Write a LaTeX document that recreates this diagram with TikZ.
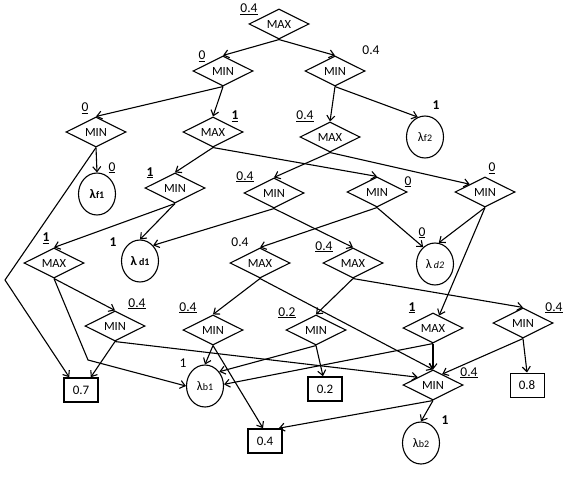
\documentclass[tikz,border=0pt]{standalone}
\usepackage{fontspec}
\setmainfont{Carlito}
\usetikzlibrary{shapes.geometric,arrows.meta,calc}
\begin{document}
\begin{tikzpicture}[x=1pt,y=-1pt,
  dia/.style={draw,diamond,aspect=2,minimum width=60pt,minimum height=30pt,inner sep=0pt,line width=1.1pt,font=\fontsize{12.5}{13}\selectfont},
  leaf/.style={draw,ellipse,minimum width=37pt,minimum height=42pt,inner sep=0pt,line width=1.1pt},
  val/.style={draw,rectangle,minimum width=34pt,minimum height=24pt,inner sep=0pt,line width=1.6pt,font=\fontsize{13}{13}\selectfont},
  lab/.style={anchor=base,inner sep=0pt,font=\fontsize{13.5}{14}\selectfont},
  edge/.style={line width=1.1pt,-{Straight Barb[length=5pt,width=8pt]}},
  lam/.style={font=\fontsize{13}{13}\selectfont},
  sub/.style={}
]
\useasboundingbox (0,0) rectangle (578,500);
\newcommand{\lsub}[1]{{\fontsize{10}{10}\selectfont #1}}
% diamonds
\node[dia] (r) at (279,24) {MAX};
\node[dia] (n2) at (223,71) {MIN};
\node[dia] (n3) at (335,71) {MIN};
\node[dia] (n4) at (96,132) {MIN};
\node[dia] (n5) at (213,132) {MAX};
\node[dia] (n6) at (330,137) {MAX};
\node[dia] (n9) at (175,188) {MIN};
\node[dia] (n10) at (274,193) {MIN};
\node[dia] (n11) at (377,192) {MIN};
\node[dia] (n12) at (485,192) {MIN};
\node[dia] (n13) at (54,263) {MAX};
\node[dia] (n15) at (260,263) {MAX};
\node[dia] (n16) at (353,263) {MAX};
\node[dia] (n18) at (115,326) {MIN};
\node[dia] (n19) at (213,330) {MIN};
\node[dia] (n20) at (316,330) {MIN};
\node[dia] (n21) at (433,328) {MAX};
\node[dia] (n22) at (523,323) {MIN};
\node[dia] (n23) at (433,385) {MIN};
% leaves
\node[leaf,lam] (f2) at (425,137) {λ\lsub{f2}};
\node[leaf,lam] (f1) at (97,194) {\bfseries λ\lsub{f1}};
\node[leaf,lam] (d1) at (140,261) {\bfseries λ\,\lsub{d1}};
\node[leaf,lam] (d2) at (435,264) {λ\,\lsub{\itshape d2}};
\node[leaf,lam] (b1) at (205,386) {λ\lsub{b1}};
\node[leaf,lam] (b2) at (421,443) {λ\lsub{b2}};
% value boxes
\node[val] (b07) at (81,390) {0.7};
\node[val] (b02) at (325,389) {0.2};
\node[val,line width=1pt] (b08) at (527,385) {0.8};
\node[val] (b04) at (265,441) {0.4};
% labels
\node[lab] (lr) at (249,12.5) {\underline{0.4}};
\node[lab] (l2) at (202,60) {\underline{0}};
\node[lab] (l3) at (371,55) {0.4};
\node[lab] (l4) at (85,111.5) {\underline{0}};
\node[lab] (l5) at (235,120) {\underline{\bfseries 1}};
\node[lab] (l6) at (305,120) {\underline{0.4}};
\node[lab] (lf2) at (436,110) {\bfseries 1};
\node[lab] (lf1) at (112,171) {\underline{0}};
\node[lab] (l9) at (150,176) {\underline{\bfseries 1}};
\node[lab] (l10) at (245,180) {\underline{0.4}};
\node[lab] (l11) at (408,185) {\underline{0}};
\node[lab] (l12) at (492,171.5) {\underline{0}};
\node[lab] (l13) at (46,241.5) {\underline{\bfseries 1}};
\node[lab] (ld1) at (113,246.5) {\bfseries 1};
\node[lab] (l15) at (240,246.5) {0.4};
\node[lab] (l16) at (324,250) {\underline{0.4}};
\node[lab] (ld2) at (422,236) {\underline{0}};
\node[lab] (l18) at (137,307) {\underline{0.4}};
\node[lab] (l19) at (188,311) {\underline{0.4}};
\node[lab] (l20) at (287,316) {\underline{0.2}};
\node[lab] (l21) at (412,311) {\underline{\bfseries 1}};
\node[lab] (l22) at (554,311) {\underline{0.4}};
\node[lab] (l23) at (469,376) {\underline{0.4}};
\node[lab] (lb1) at (183,367) {1};
\node[lab] (lb2) at (445,424) {\bfseries 1};
% bends
\coordinate (cA) at (5,280);
\coordinate (cB) at (88,360);
% edges
\draw[edge] (r.south) -- (n2.north);
\draw[edge] (r.south) -- (n3.north);
\draw[edge] (n2.south) -- (n4.north);
\draw[edge] (n2.south) -- (n5.north);
\draw[edge] (n3.south) -- (n6.north);
\draw[edge] (n3.south) -- (f2.110);
\draw[edge] (n4.south) -- (f1.north);
\draw[edge] (n4.south) -- (cA) -- ($(b07.north west)+(6,0)$);
\draw[edge] (n5.south) -- (n9.north);
\draw[edge] (n5.south) -- (n11.north);
\draw[edge] (n6.south) -- (n10.north);
\draw[edge] (n6.south) -- (n12.north west);
\draw[edge] (n9.south) -- (n13.north);
\draw[edge] (n9.south) -- (d1.north);
\draw[edge] (n10.south) -- (d1.50);
\draw[edge] (n10.south) -- (n16.north);
\draw[edge] (n11.south) -- (d2.125);
\draw[edge] (n11.south) -- (n15.north);
\draw[edge] (n12.south) -- (d2.80);
\draw[edge] (n12.south) -- ($(n21.north)!0.2!(n21.east)$);
\draw[edge] (n13.south) -- (n18.north);
\draw[edge] (n13.south) -- (cB) -- (b1.west);
\draw[edge] (n15.south) -- (n19.north);
\draw[edge] (n15.south) -- (n23.north);
\draw[edge] (n16.south) -- (n20.north);
\draw[edge] (n16.south) -- (n22.north);
\draw[edge] (n18.south) -- ($(b07.north east)+(-8,0)$);
\draw[edge] (n18.south) -- (n23.north west);
\draw[edge] (n19.south) -- (b1.north);
\draw[edge] (n19.south) -- ($(b04.north)+(-2,0)$);
\draw[edge] (n20.south) -- ($(b02.north)+(-2,0)$);
\draw[edge] (n20.south) -- (b1.45);
\draw[edge] (n21.south) -- (b1.5);
\draw[edge] (n21.south) -- (n23.north);
\draw[edge] (n22.south) -- (b08.north);
\draw[edge] (n22.south) -- ($(n23.north)!0.3!(n23.east)$);
\draw[edge] (n23.south) -- (b2.north);
\draw[edge] (n23.south) -- ($(b04.north east)+(-4,0)$);
\end{tikzpicture}
\end{document}
